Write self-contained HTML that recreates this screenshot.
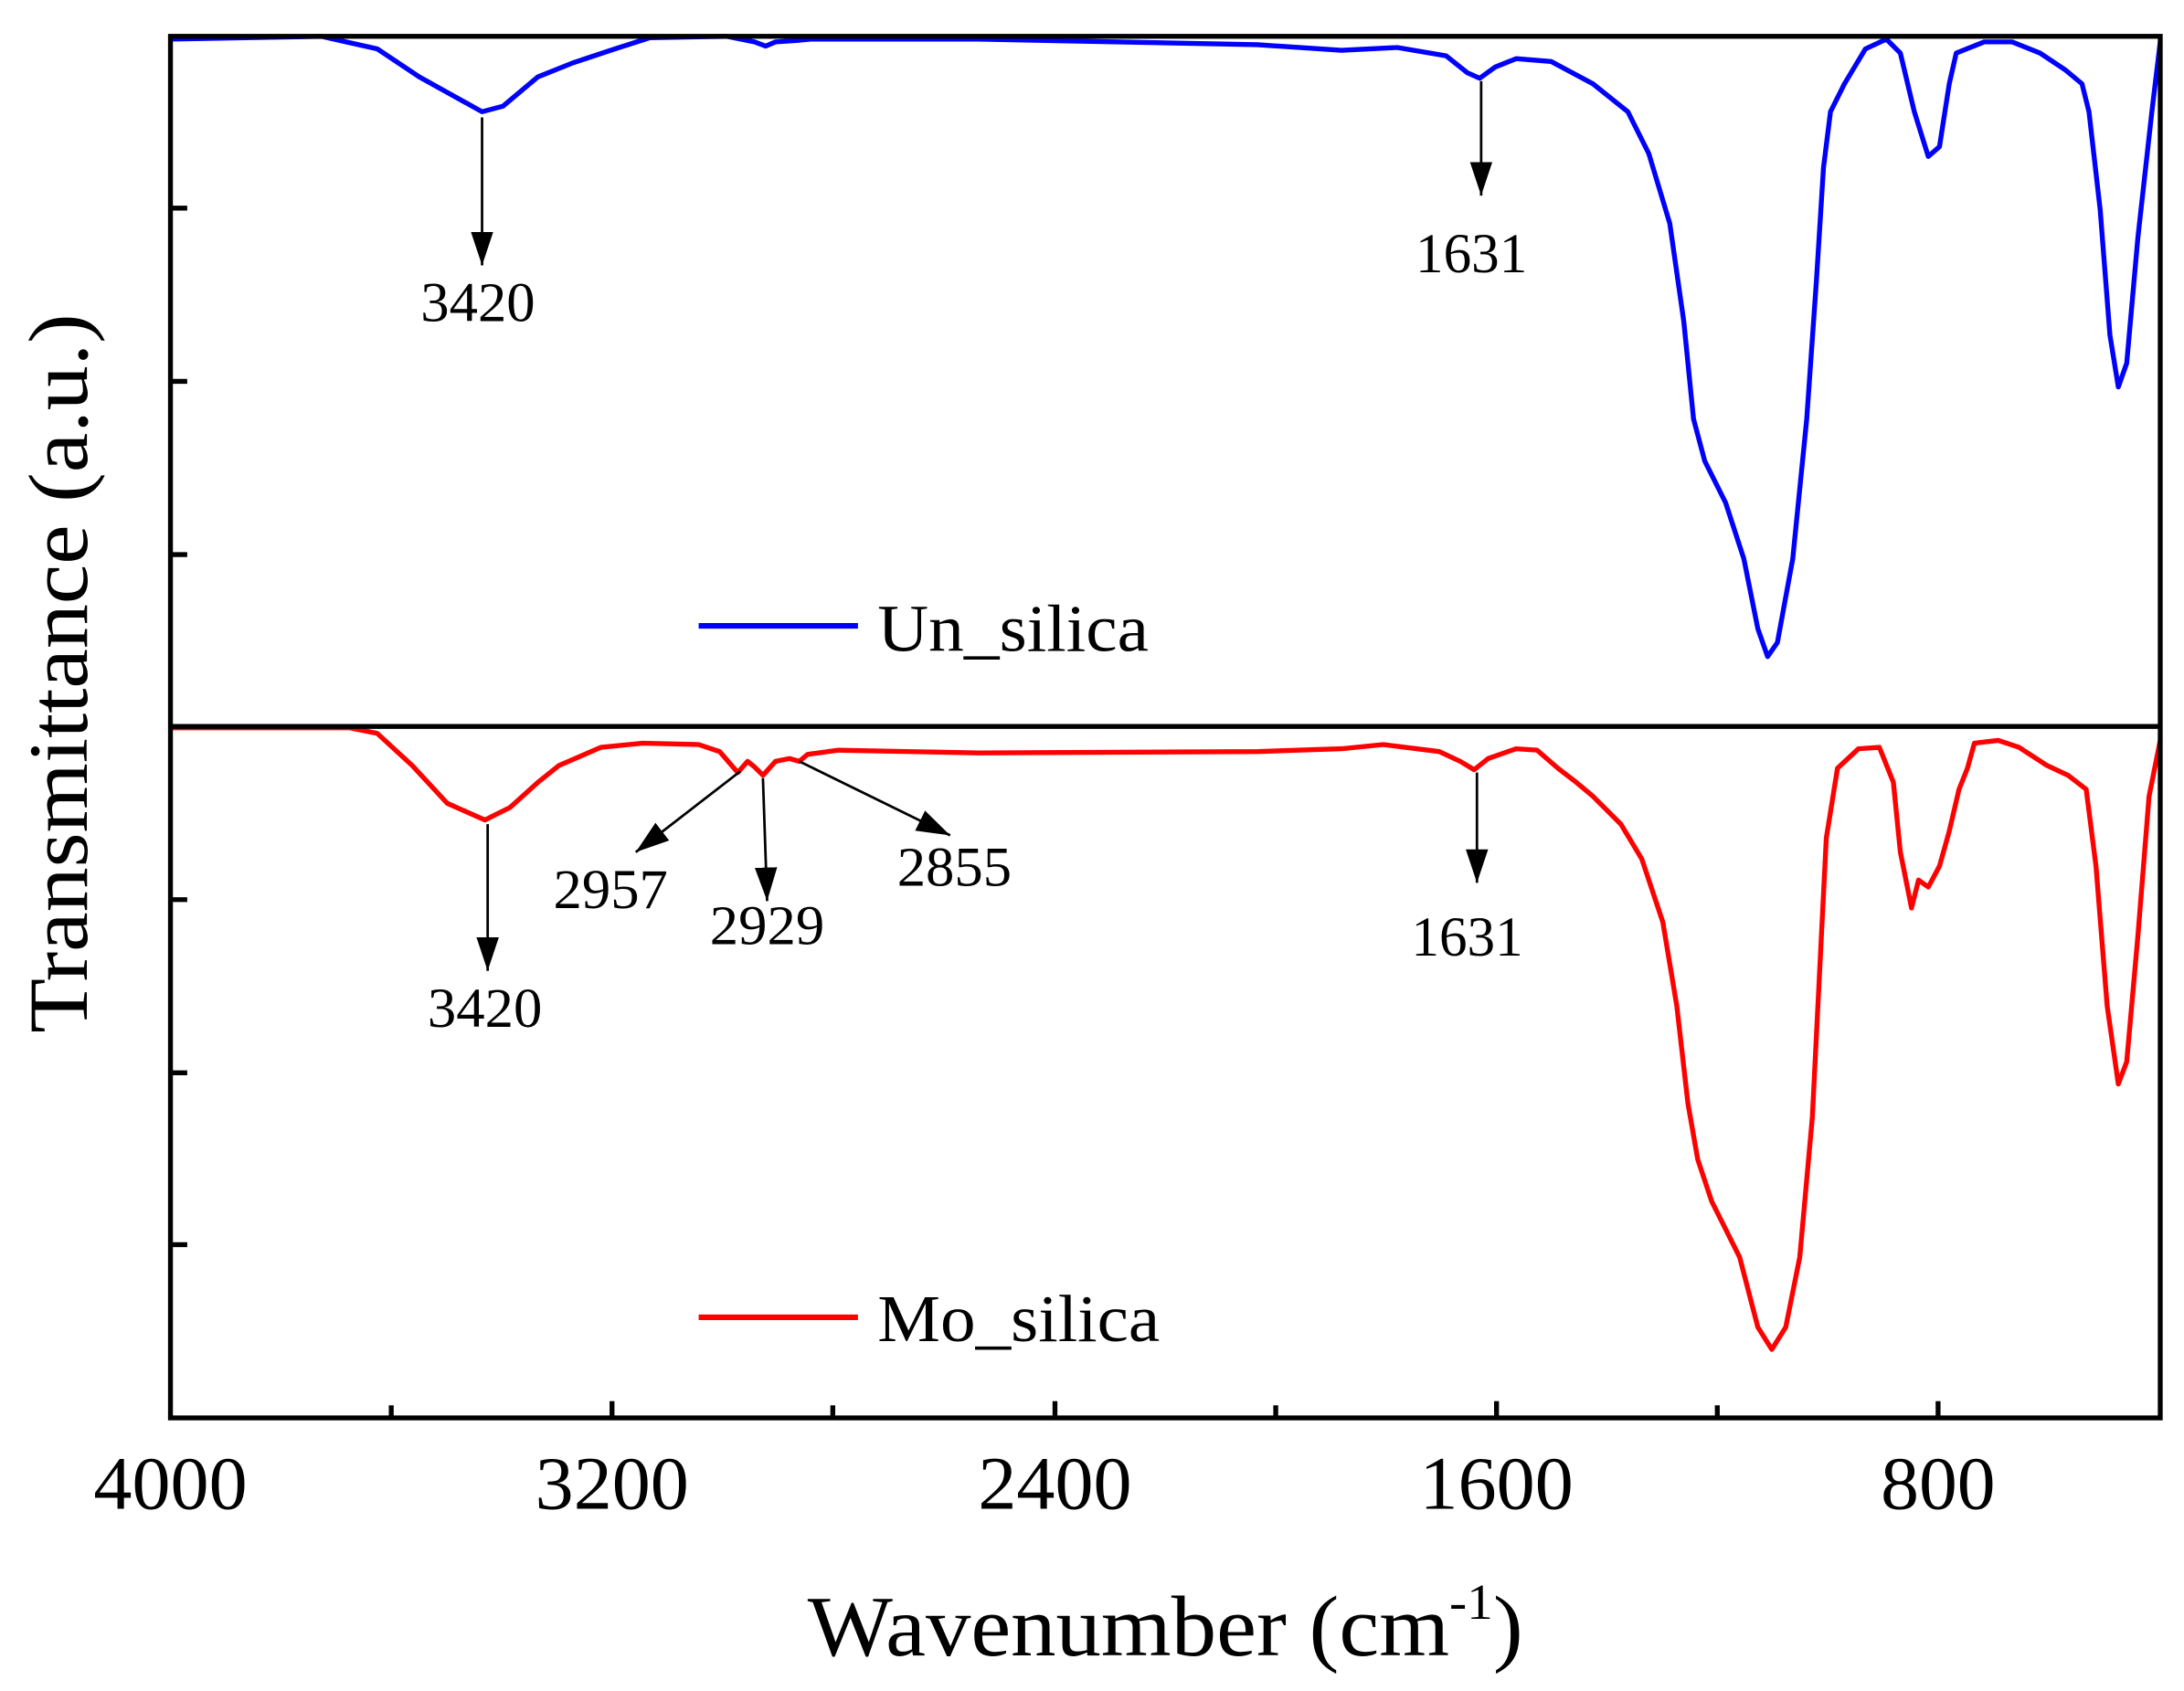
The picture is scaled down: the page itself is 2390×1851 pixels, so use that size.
<!DOCTYPE html>
<html><head><meta charset="utf-8"><style>
html,body{margin:0;padding:0;background:#fff;}
svg{display:block;}
text{font-family:"Liberation Serif",serif;fill:#000;}
</style></head><body>
<svg width="2390" height="1851" viewBox="0 0 1563 1210.5" xmlns="http://www.w3.org/2000/svg">
<defs>
<marker id="ah2" viewBox="0 0 10 10" refX="10" refY="5" markerWidth="24" markerHeight="16" markerUnits="userSpaceOnUse" orient="auto" preserveAspectRatio="none"><path d="M0,0 L10,5 L0,10 z" fill="#000"/></marker></defs>
<rect width="1563" height="1211" fill="#fff"/>
<polyline fill="none" stroke="#0000ff" stroke-width="3.5" stroke-linejoin="round" points="122,28 230,26 270,35 300,55 345,80 360,76 385,55 410,45 440,35 465,27 520,26 540,30 548,33 555,30 570,29 580,28 700,28 900,32 960,36 1000,34 1035,40 1050,52 1059,56 1070,48 1085,42 1110,44 1140,60 1165,80 1180,110 1195,160 1205,230 1212,300 1220,330 1235,360 1248,400 1258,450 1265,470 1272,460 1283,400 1293,300 1300,200 1305,120 1310,80 1320,60 1335,35 1350,28 1360,38 1370,80 1380,112 1388,105 1395,60 1400,38 1420,30 1440,30 1460,38 1478,50 1490,60 1495,80 1503,150 1510,240 1516,277 1522,260 1530,170 1540,80 1546,30"/>
<polyline fill="none" stroke="#ff0000" stroke-width="3.5" stroke-linejoin="round" points="122,521 250,521 270,525 295,548 320,575 347,587 365,578 385,560 400,548 430,535 460,532 500,533 515,538 528,553 535,545 540,549 546,555 555,545 565,543 572,545 578,540 600,537 700,539 900,538 960,536 990,533 1030,538 1045,545 1055,551 1065,543 1085,536 1100,537 1115,550 1128,560 1140,570 1160,590 1175,615 1190,660 1200,720 1208,790 1215,830 1225,860 1245,900 1258,950 1268,966 1278,950 1288,900 1297,800 1302,700 1307,600 1315,550 1330,536 1345,535 1355,560 1360,610 1368,650 1373,630 1380,635 1388,620 1395,595 1402,565 1408,550 1413,532 1430,530 1445,535 1465,548 1480,555 1493,565 1500,620 1508,720 1516,776 1522,760 1530,670 1538,570 1546,530"/>
<rect x="122" y="26" width="1424" height="989" fill="none" stroke="#000" stroke-width="3.5"/>
<line x1="122" y1="520" x2="1546" y2="520" stroke="#000" stroke-width="3.5"/>
<g stroke="#000" stroke-width="3.5">
<line x1="122" y1="149" x2="134" y2="149"/><line x1="122" y1="273" x2="134" y2="273"/><line x1="122" y1="397" x2="134" y2="397"/>
<line x1="122" y1="644" x2="134" y2="644"/><line x1="122" y1="768" x2="134" y2="768"/><line x1="122" y1="891" x2="134" y2="891"/>
<line x1="280" y1="1015" x2="280" y2="1006"/><line x1="438" y1="1015" x2="438" y2="1003"/><line x1="596" y1="1015" x2="596" y2="1006"/><line x1="755" y1="1015" x2="755" y2="1003"/><line x1="913" y1="1015" x2="913" y2="1006"/><line x1="1071" y1="1015" x2="1071" y2="1003"/><line x1="1229" y1="1015" x2="1229" y2="1006"/><line x1="1387" y1="1015" x2="1387" y2="1003"/>
</g>
<g font-size="54" text-anchor="middle">
<text x="122" y="1080" textLength="110" lengthAdjust="spacingAndGlyphs">4000</text><text x="438" y="1080" textLength="110" lengthAdjust="spacingAndGlyphs">3200</text><text x="755" y="1080" textLength="110" lengthAdjust="spacingAndGlyphs">2400</text><text x="1071" y="1080" textLength="110" lengthAdjust="spacingAndGlyphs">1600</text><text x="1387" y="1080" textLength="82" lengthAdjust="spacingAndGlyphs">800</text>
</g>
<text x="578" y="1185" font-size="62" textLength="512" lengthAdjust="spacingAndGlyphs">Wavenumber (cm<tspan font-size="36" dy="-26">-1</tspan><tspan dy="26">)</tspan></text>
<text transform="translate(62,482) rotate(-90)" font-size="60" text-anchor="middle" textLength="515" lengthAdjust="spacingAndGlyphs">Transmittance (a.u.)</text>
<g stroke="#000" stroke-width="1.8">
<line x1="345" y1="84" x2="345" y2="190" marker-end="url(#ah2)"/>
<line x1="1060" y1="58" x2="1060" y2="140" marker-end="url(#ah2)"/>
<line x1="349" y1="590" x2="349" y2="695" marker-end="url(#ah2)"/>
<line x1="530" y1="552" x2="455" y2="610" marker-end="url(#ah2)"/>
<line x1="546" y1="557" x2="549" y2="645" marker-end="url(#ah2)"/>
<line x1="572" y1="545" x2="680" y2="598" marker-end="url(#ah2)"/>
<line x1="1057" y1="553" x2="1057" y2="632" marker-end="url(#ah2)"/>
</g>
<g font-size="40" text-anchor="middle">
<text x="342" y="230" textLength="82" lengthAdjust="spacingAndGlyphs">3420</text><text x="1053" y="195" textLength="80" lengthAdjust="spacingAndGlyphs">1631</text>
<text x="347" y="735" textLength="82" lengthAdjust="spacingAndGlyphs">3420</text><text x="437" y="650" textLength="82" lengthAdjust="spacingAndGlyphs">2957</text><text x="549" y="676" textLength="82" lengthAdjust="spacingAndGlyphs">2929</text><text x="683" y="634" textLength="82" lengthAdjust="spacingAndGlyphs">2855</text><text x="1050" y="684" textLength="80" lengthAdjust="spacingAndGlyphs">1631</text>
</g>
<line x1="500" y1="448" x2="614" y2="448" stroke="#0000ff" stroke-width="4"/>
<text x="628" y="466" font-size="48" textLength="194" lengthAdjust="spacingAndGlyphs">Un_silica</text>
<line x1="500" y1="943" x2="614" y2="943" stroke="#ff0000" stroke-width="4"/>
<text x="628" y="960" font-size="48" textLength="202" lengthAdjust="spacingAndGlyphs">Mo_silica</text>
</svg>
</body></html>
